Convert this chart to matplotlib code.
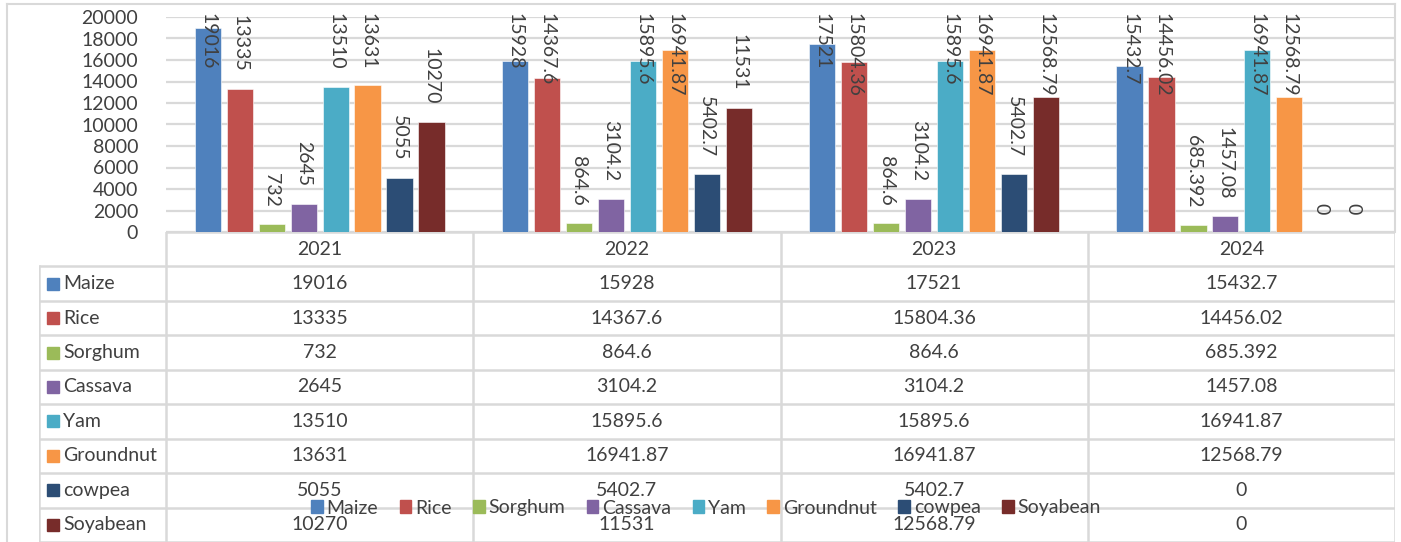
import numpy as np
import matplotlib.pyplot as plt
from matplotlib.patches import Rectangle
from matplotlib.lines import Line2D

plt.rcParams['font.family'] = ['Lato', 'DejaVu Sans']

# Data
years = ['2021', '2022', '2023', '2024']
crops = ['Maize', 'Rice', 'Sorghum', 'Cassava', 'Yam', 'Groundnut', 'cowpea', 'Soyabean']
maize = [19016, 15928, 17521, 15432.7]
rice = [13335, 14367.6, 15804.36, 14456.02]
sorghum = [732, 864.6, 864.6, 685.392]
cassava = [2645, 3104.2, 3104.2, 1457.08]
yam = [13510, 15895.6, 15895.6, 16941.87]
groundnut = [13631, 16941.87, 16941.87, 12568.79]
cowpea = [5055, 5402.7, 5402.7, 0]
soyabean = [10270, 11531, 12568.79, 0]
series = [maize, rice, sorghum, cassava, yam, groundnut, cowpea, soyabean]
colors = ['#4F81BD', '#C0504D', '#9BBB59', '#8064A2', '#4BACC6', '#F79646', '#2C4D75', '#772C2A']

W, H = 1401, 542
txt = '#404040'
grid = '#d9d9d9'
fs = 14


def fmt(v):
    return str(int(v)) if float(v).is_integer() else str(v)


fig = plt.figure(figsize=(W / 100, H / 100), dpi=100)


def fx(px):
    return px / W


def fy(py):
    return 1 - py / H


# chart area
ax = fig.add_axes([fx(166), fy(232), fx(1395) - fx(166), fy(17) - fy(232)])
x = np.arange(len(years))
slot = 0.104
bw = 0.085
labels = []
for k, (vals, c) in enumerate(zip(series, colors)):
    pos = x + (k - 3.5) * slot
    ax.bar(pos, vals, width=bw, color=c, edgecolor='white', linewidth=0.4, zorder=3)
    for p, v in zip(pos, vals):
        t = ax.text(p, v + 1600, fmt(v), rotation=270, rotation_mode='anchor',
                    ha='right', va='center', fontsize=fs, color=txt, zorder=4, clip_on=False)
        labels.append(t)

ax.set_xlim(-0.5, 3.5)
ax.set_ylim(0, 20000)
ax.set_yticks(np.arange(0, 20001, 2000))
ax.tick_params(axis='y', length=0, pad=20, labelsize=fs, labelcolor=txt)
ax.set_xticks([])
ax.yaxis.grid(True, color=grid, linewidth=1.6, zorder=0)
for s in ax.spines.values():
    s.set_visible(False)

# table below
tx = fig.add_axes([fx(39), 0, fx(1395) - fx(39), fy(232)])
tx.set_xlim(3.5 - (1395 - 39) / 307.25, 3.5)
tx.set_ylim(9.0, 0)
tx.axis('off')
left = tx.get_xlim()[0]
lw = 1.8
tx.plot([-0.5, 3.5], [0, 0], color=grid, lw=lw, solid_capstyle='butt')
for r in range(1, 10):
    tx.plot([left, 3.5], [r, r], color=grid, lw=lw, solid_capstyle='butt')
tx.plot([left, left], [1, 9], color=grid, lw=lw)
for b in np.arange(-0.5, 3.6, 1.0):
    tx.plot([b, b], [0, 9], color=grid, lw=lw)
for i, yr in enumerate(years):
    tx.text(i, 0.5, yr, ha='center', va='center', fontsize=fs, color=txt)
for r, (name, vals, c) in enumerate(zip(crops, series, colors)):
    yy = r + 1.5
    tx.plot(left + 0.045, yy, marker='s', markersize=8.5, color=c, linestyle='none')
    tx.text(left + 0.078, yy, name, ha='left', va='center', fontsize=fs, color=txt)
    for i, v in enumerate(vals):
        tx.text(i, yy, fmt(v), ha='center', va='center', fontsize=fs, color=txt)

# outer border
fig.add_artist(Line2D([fx(7), fx(7)], [0, fy(4)], color=grid, lw=1.5))
fig.add_artist(Line2D([fx(7), fx(1395)], [fy(4), fy(4)], color=grid, lw=1.5))
fig.add_artist(Line2D([fx(1395), fx(1395)], [fy(232), fy(4)], color=grid, lw=1.5))

# legend
handles = [Rectangle((0, 0), 1, 1, color=c) for c in colors]
fig.legend(handles, crops, loc='center', bbox_to_anchor=(fx(706), fy(508)), ncol=8,
           frameon=False, fontsize=fs, handlelength=0.6, handleheight=0.6,
           handletextpad=0.2, columnspacing=1.1, labelcolor=txt)

# keep value labels inside the chart area like Excel does
fig.canvas.draw()
r = fig.canvas.get_renderer()
inv = ax.transData.inverted()
limit = 20000 + 4 * 20000 / 215
for t in labels:
    bb = t.get_window_extent(r)
    top = inv.transform((0, bb.y1))[1]
    if top > limit:
        t.set_y(limit)
        t.set_ha('left')

fig.savefig('out.png', dpi=100)
